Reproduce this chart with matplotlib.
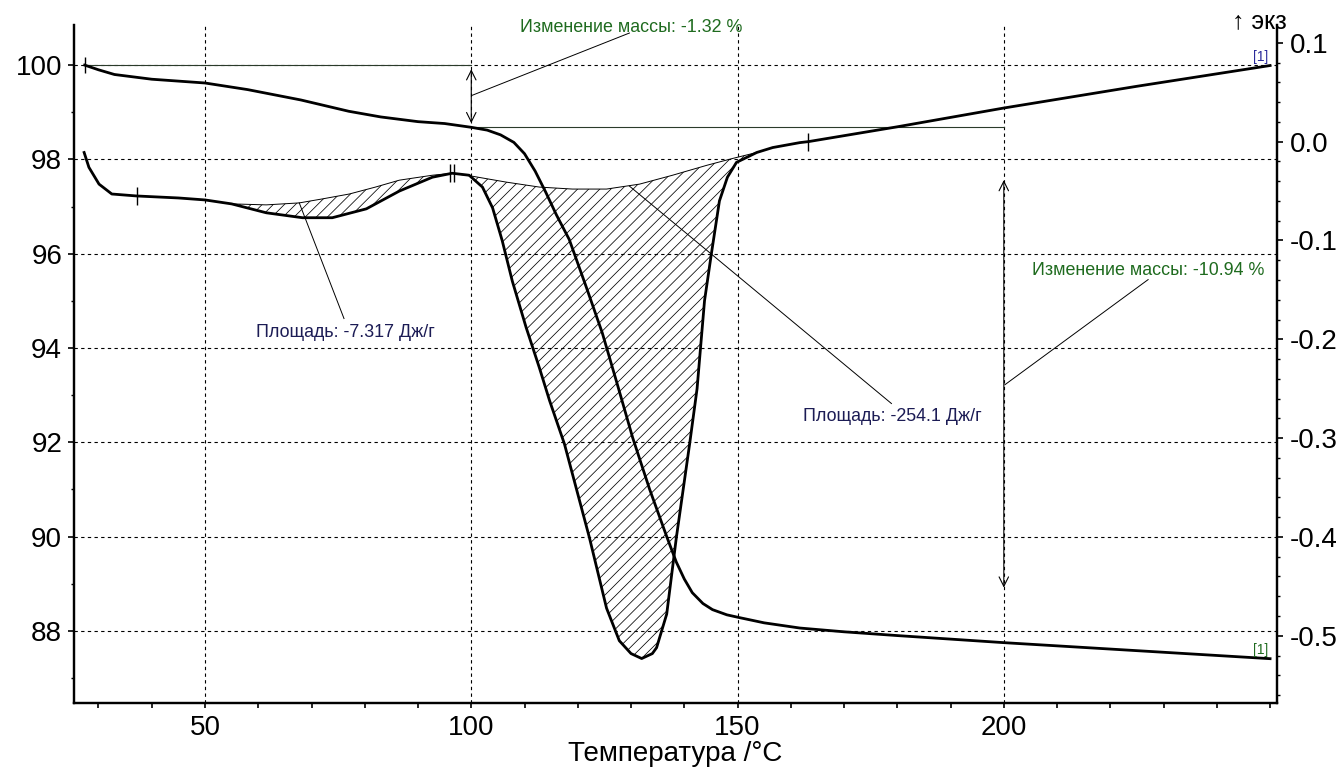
import numpy as np
import matplotlib
matplotlib.use('Agg')
import matplotlib.pyplot as plt
from matplotlib.path import Path
from matplotlib.ticker import MultipleLocator, FixedLocator
from matplotlib import font_manager

# ---------------------- ДАННЫЕ ТГ (масса, %) -------------------------
tg_temp = [27.4, 30, 33, 40, 50, 58, 68, 77, 83, 90, 95, 100, 103, 105.5, 108, 110,
           112, 114, 116, 118.4, 121.6, 124.6, 127.5, 130.3, 133.5, 136.7, 138.5, 140,
           141.5, 143.5, 145.3, 148, 150.4, 155, 161.7, 170, 180, 200, 225, 250]
tg_mass = [100.0, 99.9, 99.8, 99.7, 99.62, 99.48, 99.26, 99.02, 98.9, 98.8, 98.76, 98.68,
           98.62, 98.52, 98.36, 98.12, 97.75, 97.3, 96.82, 96.3, 95.29, 94.32, 93.2, 92.1,
           91.0, 90.0, 89.46, 89.1, 88.81, 88.58, 88.45, 88.34, 88.28, 88.17, 88.06,
           87.98, 87.9, 87.75, 87.58, 87.41]

# ---------------------- ДАННЫЕ ДСК (мВт/мг) -------------------------
dsc_temp = [27.3, 28.2, 30.1, 32.5, 37.2, 45, 50, 55, 61.5, 68.3, 73.9, 80.3, 86.5, 92.7,
            96.4, 99.6, 102.1, 104, 105.8, 107.7, 110.3, 112.8, 114.7, 117.5, 122.2, 125.4,
            127.8, 130.0, 132.0, 134.0, 134.8, 136.7, 138.5, 141.0, 142.4, 143.8, 145.1,
            146.6, 148.1, 149.8, 153.6, 156.6, 161.7, 163.3, 180, 200, 225, 250]
dsc_heat = [-0.011, -0.026, -0.043, -0.053, -0.055, -0.057, -0.059, -0.063, -0.072, -0.077,
            -0.077, -0.068, -0.050, -0.036, -0.032, -0.034, -0.046, -0.067, -0.100, -0.141,
            -0.188, -0.229, -0.262, -0.306, -0.401, -0.472, -0.505, -0.518, -0.523, -0.518,
            -0.512, -0.478, -0.401, -0.306, -0.250, -0.161, -0.113, -0.060, -0.036, -0.021,
            -0.011, -0.006, -0.001, 0.0, 0.015, 0.034, 0.056, 0.077]

# базовые линии пиков
base1_temp = [55.0, 61.5, 67.7, 72, 77.1, 82, 86.5, 92.7, 96.4]
base1_heat = [-0.063, -0.064, -0.062, -0.058, -0.053, -0.046, -0.039, -0.034, -0.032]
base2_temp = [96.4, 100.2, 106.6, 112.8, 119, 125.4, 131.6, 137.8, 144.2, 149.1, 153.6]
base2_heat = [-0.032, -0.035, -0.041, -0.046, -0.048, -0.048, -0.043, -0.034, -0.024,
              -0.017, -0.011]

# ступени массы
mass_start, mass_mid, mass_end = 100.0, 98.68, 87.74
step_temp = [100, 200]

# подписи
x_ticks = [50, 100, 150, 200]
left_ticks = [88, 90, 92, 94, 96, 98, 100]
right_ticks = [-0.5, -0.4, -0.3, -0.2, -0.1, 0.0, 0.1]
txt_mass1 = "Изменение массы: -1.32 %"
txt_mass2 = "Изменение массы: -10.94 %"
txt_area1 = "Площадь: -7.317 Дж/г"
txt_area2 = "Площадь: -254.1 Дж/г"

GREEN = '#1f6b1f'
NAVY = '#1c1c55'

plt.rcParams['font.family'] = ['Liberation Sans', 'DejaVu Sans']
plt.rcParams['axes.unicode_minus'] = False
plt.rcParams['hatch.linewidth'] = 0.55

names = {f.name for f in font_manager.fontManager.ttflist}
if 'Liberation Sans Narrow' in names:
    ann_family, ann_size = ['Liberation Sans Narrow', 'Liberation Sans'], 15.5
else:
    ann_family, ann_size = ['Liberation Sans', 'DejaVu Sans'], 12.9

fig = plt.figure(figsize=(13.41, 7.68), dpi=100)
ax = fig.add_axes([74 / 1341, 1 - 703 / 768, (1277 - 74) / 1341, (703 - 25) / 768])
ax2 = ax.twinx()

ax.set_xlim(25.4, 251.3)
ax.set_ylim(86.47, 100.85)
ax2.set_ylim(-0.568, 0.118)

# ---------------------- ТГ -------------------------
ax.plot(tg_temp, tg_mass, color='black', lw=2.0, zorder=3)
ax.plot(tg_temp[0], tg_mass[0], marker='|', ms=12, mew=1.0, color='black', zorder=4)

# ступени
ax.plot([tg_temp[0], step_temp[0]], [mass_start, mass_start], color='#2b3b2b', lw=0.8)
ax.plot([step_temp[0], step_temp[1]], [mass_mid, mass_mid], color='#2b3b2b', lw=0.8)
ax.annotate('', xy=(step_temp[0], mass_mid), xytext=(step_temp[0], mass_start),
            arrowprops=dict(arrowstyle='<->', lw=0.8, color='black', shrinkA=3, shrinkB=3,
                            mutation_scale=17))
ax.annotate('', xy=(step_temp[1], mass_end), xytext=(step_temp[1], mass_mid),
            arrowprops=dict(arrowstyle='<->', lw=0.8, color='black', shrinkA=38, shrinkB=40,
                            mutation_scale=17))

ax.plot([100.2, 129.7], [99.36, 100.68], color='black', lw=0.7)
ax.text(130.1, 100.70, txt_mass1, color=GREEN, ha='center', va='baseline',
        family=ann_family, fontsize=ann_size)
ax.plot([200.2, 227.1], [93.22, 95.45], color='black', lw=0.7)
ax.text(227.1, 95.55, txt_mass2, color=GREEN, ha='center', va='baseline',
        family=ann_family, fontsize=ann_size)
ax.annotate('[1]', xy=(tg_temp[-1], tg_mass[-1]), xytext=(-1, 1), textcoords='offset points',
            ha='right', va='bottom', color=GREEN, family=ann_family, fontsize=10)

# ---------------------- ДСК -------------------------
t = np.array(dsc_temp)
h = np.array(dsc_heat)
ax2.plot(t, h, color='black', lw=2.0, zorder=3)
ax2.plot(base1_temp, base1_heat, color='black', lw=0.7)
ax2.plot(base2_temp, base2_heat, color='black', lw=0.7)

for bt, bh in [(base1_temp, base1_heat), (base2_temp, base2_heat)]:
    m = (t >= bt[0]) & (t <= bt[-1])
    px = np.concatenate([t[m], bt[::-1]])
    py = np.concatenate([h[m], bh[::-1]])
    ax2.fill(px, py, facecolor='none', edgecolor='black', hatch='///', lw=0, zorder=2)

bar = Path([(0, -1), (0, 1)], [Path.MOVETO, Path.LINETO])
dbar = Path([(-0.18, -1), (-0.18, 1), (0.18, -1), (0.18, 1)],
            [Path.MOVETO, Path.LINETO, Path.MOVETO, Path.LINETO])
for i, mk in [(dsc_temp.index(37.2), bar), (dsc_temp.index(96.4), dbar),
              (dsc_temp.index(163.3), bar)]:
    ax2.plot(dsc_temp[i], dsc_heat[i], marker=mk, ms=13, mew=1.0, color='black', zorder=4)

ax2.plot([67.7, 76.1], [-0.062, -0.179], color='black', lw=0.7)
ax2.text(76.3, -0.198, txt_area1, color=NAVY, ha='center', va='baseline',
         family=ann_family, fontsize=ann_size)
ax2.plot([129.7, 178.9], [-0.045, -0.265], color='black', lw=0.7)
ax2.text(179.1, -0.283, txt_area2, color=NAVY, ha='center', va='baseline',
         family=ann_family, fontsize=ann_size)
ax2.annotate('[1]', xy=(dsc_temp[-1], dsc_heat[-1]), xytext=(-1, 1), textcoords='offset points',
             ha='right', va='bottom', color='#2a2a9a', family=ann_family, fontsize=10)

ax.text(0.985, 0.996, '↑ экз', transform=ax.transAxes, ha='center', va='baseline',
        fontsize=18, family=['Liberation Sans', 'DejaVu Sans'])

# ---------------------- ОСИ -------------------------
ax.xaxis.set_major_locator(FixedLocator(x_ticks))
ax.xaxis.set_minor_locator(MultipleLocator(10))
ax.yaxis.set_major_locator(FixedLocator(left_ticks))
ax.yaxis.set_minor_locator(MultipleLocator(1))
ax2.yaxis.set_major_locator(FixedLocator(right_ticks))
ax2.yaxis.set_minor_locator(MultipleLocator(0.02))
ax2.set_yticklabels([f"{v:.1f}" for v in right_ticks])

ax.tick_params(axis='x', which='both', length=3.5, width=1.2, labelsize=20, pad=5)
ax.tick_params(axis='y', which='major', length=4.5, width=1.2, labelsize=20, pad=4)
ax.tick_params(axis='y', which='minor', length=2.5, width=1.0)
ax2.tick_params(axis='y', which='major', length=4.5, width=1.2, labelsize=20, pad=5)
ax2.tick_params(axis='y', which='minor', length=2.5, width=1.0)

for a in (ax, ax2):
    a.spines['top'].set_visible(False)
    for s in ('left', 'right', 'bottom'):
        a.spines[s].set_linewidth(1.6)

ax.grid(True, which='major', color='black', linestyle=(0, (3, 3)), lw=0.8)
ax.set_xlabel('Температура /°C', fontsize=20, labelpad=0)

fig.savefig('out.png', dpi=100)
